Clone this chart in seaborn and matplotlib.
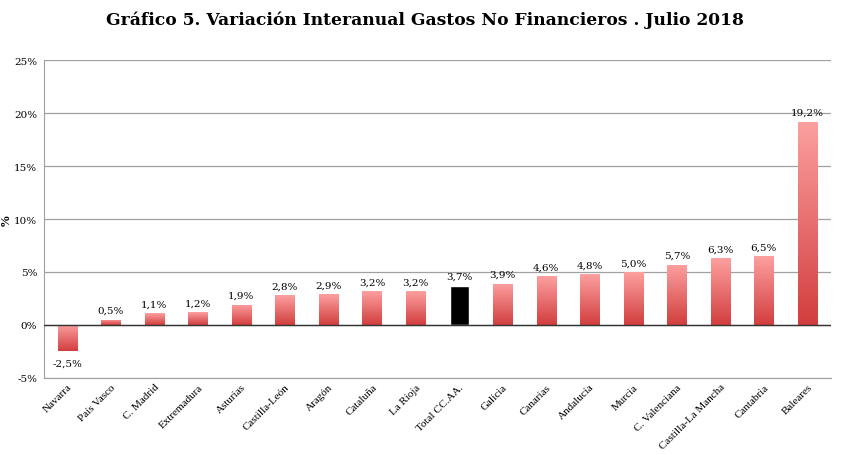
import numpy as np
import pandas as pd
import matplotlib
matplotlib.use("Agg")
import matplotlib.pyplot as plt
from matplotlib.colors import LinearSegmentedColormap
import seaborn as sns

# datos
regiones = ["Navarra", "País Vasco", "C. Madrid", "Extremadura", "Asturias",
            "Castilla-León", "Aragón", "Cataluña", "La Rioja", "Total CC.AA.",
            "Galicia", "Canarias", "Andalucía", "Murcia", "C. Valenciana",
            "Castilla-La Mancha", "Cantabria", "Baleares"]
variacion = [-2.5, 0.5, 1.1, 1.2, 1.9, 2.8, 2.9, 3.2, 3.2, 3.7,
             3.9, 4.6, 4.8, 5.0, 5.7, 6.3, 6.5, 19.2]

df = pd.DataFrame({"region": regiones, "var": variacion})

sns.set_style("white")
plt.rcParams['font.family'] = ['Liberation Serif', 'DejaVu Serif']
plt.rcParams['text.color'] = 'black'
plt.rcParams['xtick.color'] = 'black'
plt.rcParams['ytick.color'] = 'black'
plt.rcParams['axes.labelcolor'] = 'black'

fig = plt.figure(figsize=(8.5, 4.56), dpi=100)
ax = fig.add_axes([0.052, 0.169, 0.926, 0.697])

sns.barplot(data=df, x="region", y="var", color="#e05555", width=0.44,
            ax=ax, zorder=3)

# degradado rojo en cada barra (total en negro)
cmap = LinearSegmentedColormap.from_list("rojo", ["#d23e3e", "#fda0a0"])
grad = np.linspace(0, 1, 256).reshape(-1, 1)
for i, p in enumerate(ax.patches):
    x0 = p.get_x()
    w = p.get_width()
    h = p.get_height()
    y0 = p.get_y()
    if regiones[i] == "Total CC.AA.":
        p.set_facecolor("black")
        continue
    p.set_facecolor("none")
    p.set_edgecolor("none")
    ext = [x0, x0 + w, min(y0, y0 + h), max(y0, y0 + h)]
    im = ax.imshow(grad, cmap=cmap, aspect="auto", extent=ext, origin="lower",
                   zorder=3)
    im.set_clip_path(p)

ax.set_xlim(-0.53, len(regiones) - 0.45)
ax.set_ylim(-5, 25)
ax.set_yticks(range(-5, 30, 5))
ax.set_yticklabels([f"{v}%" for v in range(-5, 30, 5)], fontsize=7.5,
                   family="DejaVu Serif")
ax.yaxis.grid(True, color="#a0a0a0", linewidth=0.9, zorder=0)
ax.axhline(0, color="#333333", linewidth=1, zorder=4)

for s in ["top", "right"]:
    ax.spines[s].set_visible(False)
for s in ["left", "bottom"]:
    ax.spines[s].set_color("#a0a0a0")

ax.set_xlabel("")
ax.set_ylabel("%", fontsize=9, fontweight="bold", labelpad=2)
ax.set_xticks(range(len(regiones)))
ax.set_xticklabels(regiones, rotation=45, ha="right", rotation_mode="anchor",
                   fontsize=8)
ax.tick_params(axis="x", length=0, pad=3)
ax.tick_params(axis="y", length=0, pad=5)

for i, v in enumerate(variacion):
    etiqueta = f"{v:.1f}%".replace(".", ",")
    if v >= 0:
        ax.text(i, v + 0.45, etiqueta, ha="center", va="bottom", fontsize=7.5,
                family="DejaVu Serif")
    else:
        ax.text(i, v - 0.7, etiqueta, ha="center", va="top", fontsize=7.5,
                family="DejaVu Serif")

fig.suptitle("Gráfico 5. Variación Interanual Gastos No Financieros . Julio 2018",
             fontsize=12.3, fontweight="bold", family="DejaVu Serif", y=0.975)

plt.savefig("out.png", dpi=100)
